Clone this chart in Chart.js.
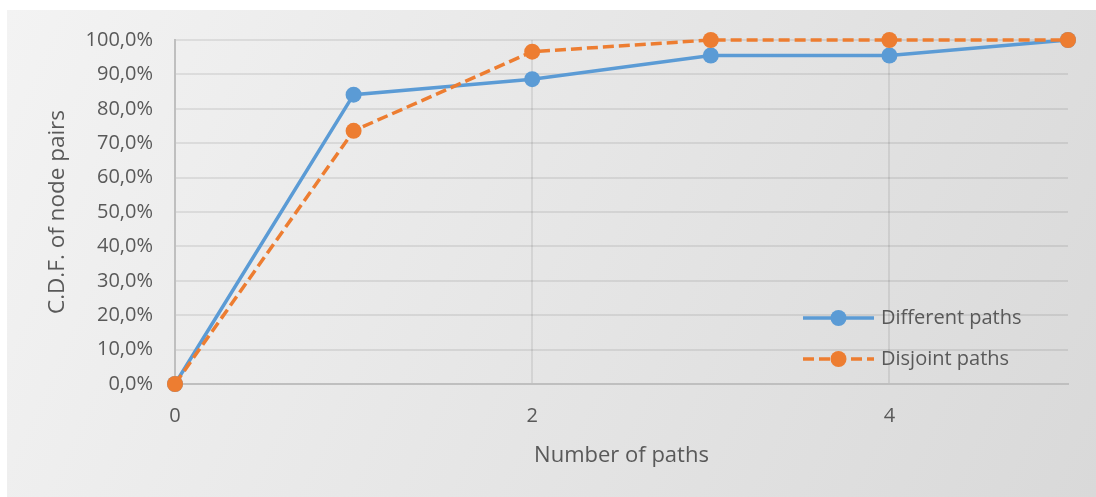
<!DOCTYPE html>
<html>
<head>
<meta charset="utf-8">
<script src="https://cdn.jsdelivr.net/npm/chart.js@4/dist/chart.umd.min.js"></script>
<style>
  html, body { margin: 0; padding: 0; background: #ffffff; }
  #wrap { width: 1096px; height: 497px; position: relative; }
</style>
</head>
<body>
<div id="wrap"><canvas id="cdf" width="1096" height="497"></canvas></div>
<script>
// Number of paths between a node pair, and the cumulative share of pairs (%)
const pathCounts     = [0, 1, 2, 3, 4, 5];
const differentPaths = [0, 84.1, 88.6, 95.5, 95.5, 100];
const disjointPaths  = [0, 73.6, 96.6, 100, 100, 100];

const seriesNames  = ['Different paths', 'Disjoint paths'];
const xTickValues  = [0, 2, 4];
const yTickValues  = [0, 10, 20, 30, 40, 50, 60, 70, 80, 90, 100];
const xAxisTitle   = 'Number of paths';
const yAxisTitle   = 'C.D.F. of node pairs';

const BLUE = '#5B9BD5';
const ORANGE = '#ED7D31';
const TEXT = '#595959';
const FONT = "'Open Sans', 'DejaVu Sans', sans-serif";

const toPoints = vals => pathCounts.map((x, i) => ({ x: x, y: vals[i] }));
const pctLabel = v => v.toFixed(1).replace('.', ',') + '%';

// Soft grey panel behind the plot
const panelBackground = {
  id: 'panelBackground',
  beforeDraw(chart) {
    const { ctx, width, height } = chart;
    ctx.save();
    ctx.fillStyle = '#ffffff';
    ctx.fillRect(0, 0, width, height);
    const g = ctx.createLinearGradient(7, 10, width, height);
    g.addColorStop(0, '#f3f3f3');
    g.addColorStop(1, '#d9d9d9');
    ctx.fillStyle = g;
    ctx.fillRect(7, 10, width - 7, height - 10);
    ctx.restore();
  }
};

// Legend drawn inside the plot area, lower right
const innerLegend = {
  id: 'innerLegend',
  afterDraw(chart) {
    const { ctx } = chart;
    const rows = [318, 359];
    ctx.save();
    chart.data.datasets.forEach((ds, i) => {
      const y = rows[i];
      ctx.strokeStyle = ds.borderColor;
      ctx.lineWidth = ds.borderWidth;
      ctx.setLineDash(ds.borderDash || []);
      ctx.beginPath();
      ctx.moveTo(803, y);
      ctx.lineTo(874, y);
      ctx.stroke();
      ctx.setLineDash([]);
      ctx.fillStyle = ds.pointBackgroundColor;
      ctx.beginPath();
      ctx.arc(838.5, y, ds.pointRadius, 0, Math.PI * 2);
      ctx.fill();
      ctx.fillStyle = TEXT;
      ctx.font = '20px ' + FONT;
      ctx.textBaseline = 'middle';
      ctx.textAlign = 'left';
      ctx.fillText(ds.label, 881, y);
    });
    ctx.restore();
  }
};

new Chart(document.getElementById('cdf'), {
  type: 'line',
  data: {
    datasets: [
      {
        label: seriesNames[0],
        data: toPoints(differentPaths),
        borderColor: BLUE,
        backgroundColor: BLUE,
        pointBackgroundColor: BLUE,
        pointBorderColor: BLUE,
        borderWidth: 3.5,
        pointRadius: 8,
        pointBorderWidth: 0,
        tension: 0,
        clip: false,
        order: 1
      },
      {
        label: seriesNames[1],
        data: toPoints(disjointPaths),
        borderColor: ORANGE,
        backgroundColor: ORANGE,
        pointBackgroundColor: ORANGE,
        pointBorderColor: ORANGE,
        borderWidth: 3.5,
        borderDash: [11, 5],
        pointRadius: 8,
        pointBorderWidth: 0,
        tension: 0,
        clip: false,
        order: 0
      }
    ]
  },
  options: {
    responsive: false,
    animation: false,
    devicePixelRatio: 1,
    layout: { padding: { top: 40, right: 28, left: 0, bottom: 0 } },
    plugins: {
      legend: { display: false },
      tooltip: { enabled: false }
    },
    scales: {
      x: {
        type: 'linear',
        min: 0,
        max: 5,
        afterBuildTicks(scale) { scale.ticks = xTickValues.map(v => ({ value: v })); },
        afterFit(scale) { scale.height = 113; },
        grid: { color: 'rgba(0,0,0,0.08)', lineWidth: 2, drawTicks: false },
        border: { color: '#bfbfbf', width: 2 },
        ticks: {
          color: TEXT,
          font: { family: FONT, size: 20 },
          padding: 20,
          maxRotation: 0,
          callback: v => String(v)
        },
        title: {
          display: true,
          text: xAxisTitle,
          color: TEXT,
          font: { family: FONT, size: 22 },
          padding: { top: 0, bottom: 28 }
        }
      },
      y: {
        type: 'linear',
        min: 0,
        max: 100,
        afterBuildTicks(scale) { scale.ticks = yTickValues.map(v => ({ value: v })); },
        afterFit(scale) { scale.width = 175; },
        grid: { color: 'rgba(0,0,0,0.08)', lineWidth: 2, drawTicks: false },
        border: { color: '#bfbfbf', width: 2 },
        ticks: {
          color: TEXT,
          font: { family: FONT, size: 20 },
          padding: 22,
          callback: v => pctLabel(v)
        },
        title: {
          display: true,
          text: yAxisTitle,
          color: TEXT,
          font: { family: FONT, size: 22.5 },
          padding: { top: 44, bottom: 0 }
        }
      }
    }
  },
  plugins: [panelBackground, innerLegend]
});
</script>
</body>
</html>
